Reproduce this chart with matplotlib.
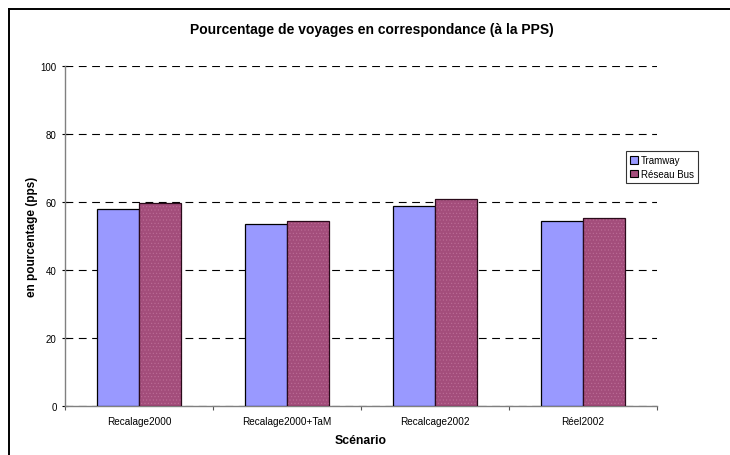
import matplotlib
matplotlib.use("Agg")
import matplotlib.pyplot as plt
import numpy as np
from matplotlib.lines import Line2D

plt.rcParams['font.family'] = ['Liberation Sans', 'DejaVu Sans']

categories = ["Recalage2000", "Recalage2000+TaM", "Recalcage2002", "Réel2002"]
tramway = [58.0, 53.5, 58.9, 54.3]
reseau_bus = [59.7, 54.4, 60.8, 55.4]
series_names = ["Tramway", "Réseau Bus"]
yticks = [0, 20, 40, 60, 80, 100]

W, H = 730, 456
fig = plt.figure(figsize=(W / 100, H / 100), dpi=100)
ax = fig.add_axes([65 / W, 1 - 407 / H, (657 - 65) / W, (407 - 67) / H])

x = np.arange(len(categories))
bw = 0.285
ax.bar(x - bw / 2, tramway, bw, color='#9999FF', edgecolor='black', linewidth=0.9, zorder=3,
       label=series_names[0])
plt.rcParams['hatch.linewidth'] = 0.4
ax.bar(x + bw / 2, reseau_bus, bw, color='#A34D7B', edgecolor='#BD6E98', linewidth=0, hatch='.....',
       zorder=3)
ax.bar(x + bw / 2, reseau_bus, bw, color='none', edgecolor='#2a0a1a', linewidth=0.9, zorder=4)

ax.set_xlim(-0.5, len(categories) - 0.5)
ax.set_ylim(0, 100)
ax.set_yticks(yticks)
ax.set_yticklabels([str(v) for v in yticks], fontsize=7)
ax.yaxis.grid(True, linestyle=(0, (7, 5)), color='black', linewidth=0.8, zorder=0)
ax.set_axisbelow(True)

ax.set_xticks(x)
ax.set_xticklabels(categories, fontsize=7.2)
ax.tick_params(axis='x', length=0, pad=7)
ax.set_xticks(np.arange(-0.5, len(categories), 1.0), minor=True)
ax.tick_params(axis='x', which='minor', length=3, direction='out', color='#555555', width=0.8)
ax.tick_params(axis='y', length=4, direction='inout', color='black', width=0.8, pad=4)

for s in ['top', 'right']:
    ax.spines[s].set_visible(False)
ax.spines['left'].set_color('#808080')
ax.spines['bottom'].set_color('#808080')
ax.spines['left'].set_linewidth(1.0)
ax.spines['bottom'].set_linewidth(1.0)

ax.set_xlabel("Scénario", fontsize=8.8, fontweight='bold')
ax.xaxis.set_label_coords(0.5, -(441 - 407) / 340, transform=ax.transAxes)
ax.xaxis.label.set_va('center')
ax.set_ylabel("en pourcentage (pps)", fontsize=8.5, fontweight='bold')
ax.yaxis.set_label_coords(-(65 - 32) / 592, 0.5)
ax.yaxis.label.set_va('center')

fig.text(372 / W, 1 - 30 / H, "Pourcentage de voyages en correspondance (à la PPS)",
         ha='center', va='center', fontsize=10, fontweight='bold')

handles = [plt.Rectangle((0, 0), 1, 1, facecolor='#9999FF', edgecolor='black', linewidth=0.8),
           plt.Rectangle((0, 0), 1, 1, facecolor='#A34D7B', edgecolor='black', linewidth=0.8)]
leg = fig.legend(handles, series_names, loc='upper left',
                 bbox_to_anchor=(626 / W, 1 - 152 / H), fontsize=7, frameon=True,
                 fancybox=False, edgecolor='black', handlelength=0.8, handleheight=0.8,
                 handletextpad=0.3, borderpad=0.45, labelspacing=0.35, borderaxespad=0)
leg.get_frame().set_linewidth(0.8)

fig.add_artist(Line2D([8.5 / W, 8.5 / W], [0, 1 - 9.5 / H], transform=fig.transFigure,
                      color='black', linewidth=1.4))
fig.add_artist(Line2D([8.5 / W, 1], [1 - 9.5 / H, 1 - 9.5 / H], transform=fig.transFigure,
                      color='black', linewidth=1.4))

fig.savefig("out.png", dpi=100)
